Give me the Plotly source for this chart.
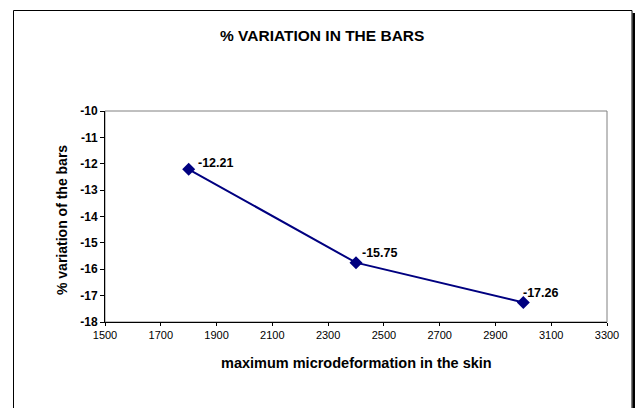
import plotly.graph_objects as go

# Data
x_values = [1800, 2400, 3000]
y_values = [-12.21, -15.75, -17.26]
x_ticks = [1500, 1700, 1900, 2100, 2300, 2500, 2700, 2900, 3100, 3300]
y_ticks = [-10, -11, -12, -13, -14, -15, -16, -17, -18]

title_text = "% VARIATION IN THE BARS"
x_title = "maximum microdeformation in the skin"
y_title = "% variation of the bars"

# label offsets in pixels (style)
label_dx = [7, 4, -2]
label_dy = [6, 10, 9]

W, H = 635, 408
L, R, T, B = 105, 28, 111, 86
pw = W - L - R
ph = H - T - B

def px_to_paper_x(px):
    return (px - L) / pw

def px_to_paper_y(py):
    return 1 - (py - T) / ph

NAVY = "#000080"
FONT = "Arial, Liberation Sans, sans-serif"

fig = go.Figure()
fig.add_trace(go.Scatter(
    x=x_values, y=y_values, mode="lines+markers",
    line=dict(color=NAVY, width=2),
    marker=dict(symbol="diamond", size=10, color=NAVY),
    showlegend=False, hoverinfo="skip",
))

annotations = []
for xv, yv, dx, dy in zip(x_values, y_values, label_dx, label_dy):
    annotations.append(dict(
        x=xv, y=yv, xref="x", yref="y", text=f"<b>{yv:.2f}</b>",
        showarrow=False, xanchor="left", yanchor="middle",
        xshift=dx, yshift=dy, font=dict(family=FONT, size=12.5, color="black"),
    ))

annotations.append(dict(
    x=px_to_paper_x(322), y=px_to_paper_y(35), xref="paper", yref="paper",
    text=f"<b>{title_text}</b>", showarrow=False, xanchor="center", yanchor="middle",
    font=dict(family=FONT, size=15.5, color="black"),
))
annotations.append(dict(
    x=px_to_paper_x(356), y=px_to_paper_y(363), xref="paper", yref="paper",
    text=f"<b>{x_title}</b>", showarrow=False, xanchor="center", yanchor="middle",
    font=dict(family=FONT, size=14.5, color="black"),
))
annotations.append(dict(
    x=px_to_paper_x(62), y=px_to_paper_y(220), xref="paper", yref="paper",
    text=f"<b>{y_title}</b>", showarrow=False, xanchor="center", yanchor="middle",
    textangle=-90, font=dict(family=FONT, size=14, color="black"),
))

shapes = [
    # plot area border (gray)
    dict(type="rect", xref="paper", yref="paper", x0=0, y0=0, x1=1, y1=1,
         line=dict(color="#808080", width=1), layer="below"),
    # outer frame
    dict(type="line", xref="paper", yref="paper",
         x0=px_to_paper_x(13.5), x1=px_to_paper_x(13.5),
         y0=px_to_paper_y(10.5), y1=px_to_paper_y(420), line=dict(color="black", width=1)),
    dict(type="line", xref="paper", yref="paper",
         x0=px_to_paper_x(13.5), x1=px_to_paper_x(632),
         y0=px_to_paper_y(10.5), y1=px_to_paper_y(10.5), line=dict(color="black", width=1)),
    dict(type="line", xref="paper", yref="paper",
         x0=px_to_paper_x(632), x1=px_to_paper_x(632),
         y0=px_to_paper_y(10.5), y1=px_to_paper_y(420), line=dict(color="black", width=1)),
    # shadow on right
    dict(type="line", xref="paper", yref="paper",
         x0=px_to_paper_x(634), x1=px_to_paper_x(634),
         y0=px_to_paper_y(13), y1=px_to_paper_y(420), line=dict(color="black", width=3)),
]

fig.update_layout(
    width=W, height=H,
    margin=dict(l=L, r=R, t=T, b=B, pad=0, autoexpand=False),
    paper_bgcolor="white", plot_bgcolor="white",
    annotations=annotations, shapes=shapes,
    font=dict(family=FONT, color="black"),
)
fig.update_xaxes(
    range=[1500, 3300], tickmode="array", tickvals=x_ticks,
    ticktext=[str(v) for v in x_ticks], automargin=False,
    showgrid=False, zeroline=False, showline=True, linecolor="black", linewidth=1,
    ticks="outside", ticklen=3, tickcolor="black",
    tickfont=dict(family=FONT, size=11, color="black"),
)
fig.update_yaxes(
    range=[-18, -10], tickmode="array", tickvals=y_ticks,
    ticktext=[f"<b>{v}</b>" for v in y_ticks], automargin=False,
    showgrid=False, zeroline=False, showline=True, linecolor="black", linewidth=1,
    ticks="outside", ticklen=4, tickcolor="black",
    tickfont=dict(family=FONT, size=12, color="black"),
)

fig.write_html(
    "out.html",
    config={"displayModeBar": False},
    post_script="document.body.style.margin='0';document.body.style.padding='0';document.body.style.overflow='hidden';",
)
